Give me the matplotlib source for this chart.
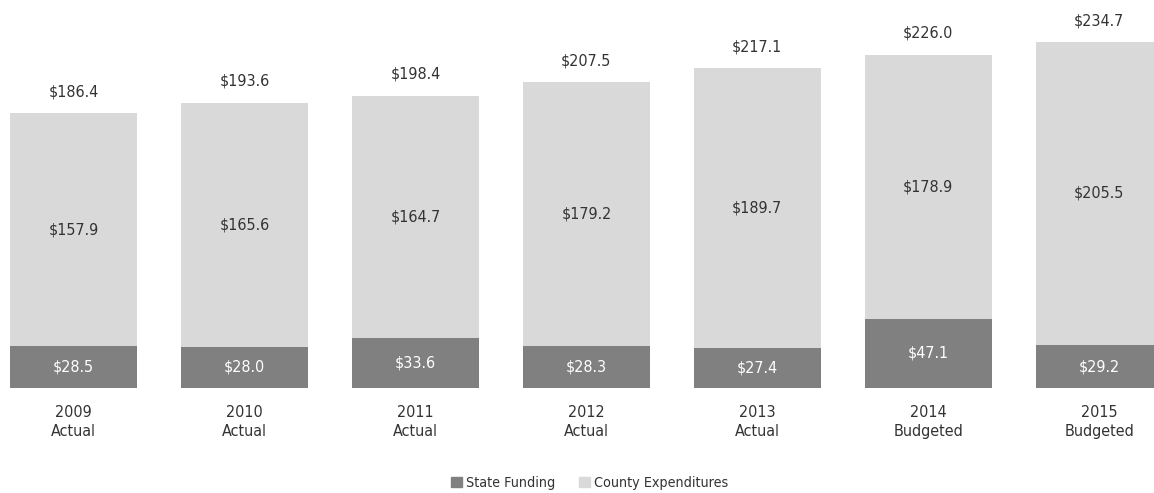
import numpy as np
import matplotlib.pyplot as plt
from matplotlib.patches import Patch

plt.rcParams['font.family'] = ['DejaVu Sans']
plt.rcParams['font.stretch'] = 'condensed'

years = ['2009', '2010', '2011', '2012', '2013', '2014', '2015']
kinds = ['Actual', 'Actual', 'Actual', 'Actual', 'Actual', 'Budgeted', 'Budgeted']
state = [28.5, 28.0, 33.6, 28.3, 27.4, 47.1, 29.2]
county = [157.9, 165.6, 164.7, 179.2, 189.7, 178.9, 205.5]
totals = [186.4, 193.6, 198.4, 207.5, 217.1, 226.0, 234.7]

dark = '#808080'
light = '#d9d9d9'
txt = '#333333'

fig = plt.figure(figsize=(11.54, 4.93), dpi=100)
ax = fig.add_axes([0, 0, 1, 1])
x = np.arange(len(years))
w = 0.74
ax.bar(x, state, w, color=dark)
ax.bar(x, county, w, bottom=state, color=light)

fs = 11.5
for i in range(len(years)):
    ax.text(x[i], state[i] / 2, '$%.1f' % state[i], ha='center', va='center',
            color='white', fontsize=fs)
    ax.text(x[i], state[i] + county[i] / 2, '$%.1f' % county[i], ha='center',
            va='center', color=txt, fontsize=fs)
    ax.text(x[i], state[i] + county[i] + 14.5, '$%.1f' % totals[i], ha='center',
            va='center', color=txt, fontsize=fs)
    ax.text(x[i], -23, years[i] + '\n' + kinds[i], ha='center', va='center',
            color=txt, fontsize=fs, linespacing=1.35)

ax.set_xlim(-0.43, 6.32)
ax.set_ylim(-71.2, 263.2)
ax.axis('off')

handles = [Patch(color=dark, label='State Funding'),
           Patch(color=light, label='County Expenditures')]
fig.legend(handles=handles, loc='lower center', ncol=2, frameon=False,
           fontsize=10.3, handlelength=0.8, handleheight=0.8, handletextpad=0.3,
           columnspacing=1.6, bbox_to_anchor=(0.511, -0.02), labelcolor=txt)

fig.savefig('out.png', dpi=100)
